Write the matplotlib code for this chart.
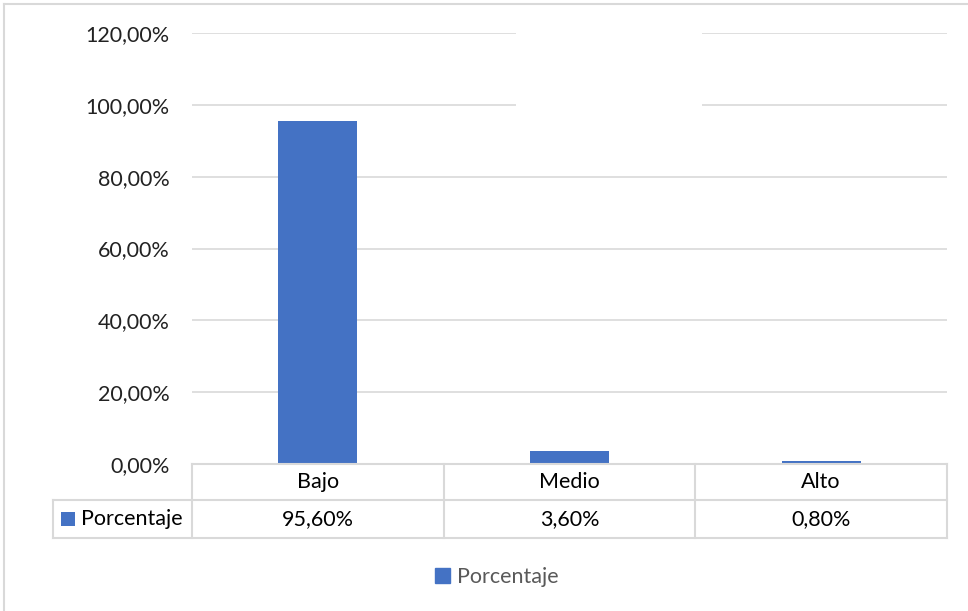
import matplotlib.pyplot as plt
from matplotlib.patches import Rectangle
from matplotlib.lines import Line2D
from matplotlib.transforms import blended_transform_factory

# data
categorias = ["Bajo", "Medio", "Alto"]
porcentaje = [95.60, 3.60, 0.80]
serie = "Porcentaje"
yticks = [0, 20, 40, 60, 80, 100, 120]

W, H = 968, 611
azul = "#4472C4"
gris = "#D9D9D9"
fs = 15.5

plt.rcParams['font.family'] = ['Lato', 'DejaVu Sans']

fig = plt.figure(figsize=(W / 100, H / 100), dpi=100)
ax = fig.add_axes([192 / W, (H - 464) / H, (947 - 192) / W, (464 - 33) / H])

x = list(range(len(categorias)))
ax.bar(x, porcentaje, width=0.314, color=azul, zorder=2)
ax.set_xlim(-0.5, len(categorias) - 0.5)
ax.set_ylim(0, 120)
ax.set_yticks(yticks)
ax.set_yticklabels([("%.2f%%" % v).replace(".", ",") for v in yticks],
                   fontsize=fs, color="#222222")
ax.set_xticks([])
ax.tick_params(axis="y", length=0, pad=16)
ax.grid(axis="y", color=gris, linewidth=1.2)
ax.set_axisbelow(True)
for s in ax.spines.values():
    s.set_visible(False)

# blank title box hiding the top gridlines
fig.patches.append(Rectangle((516 / W, (H - 140) / H), (702 - 516) / W, 120 / H,
                             transform=fig.transFigure, facecolor="white",
                             edgecolor="none", zorder=1))

# data table under the plot
tr = blended_transform_factory(ax.transData, ax.transAxes)
ah = 464 - 33
cw = (947 - 192) / 3
r1 = -36 / ah
r2 = -74 / ah
xl = (53 - 192) / cw - 0.5
xe = len(categorias) - 0.5
kw = dict(transform=tr, color=gris, linewidth=1.5, clip_on=False)
ax.add_line(Line2D([-0.5, xe], [0, 0], **kw))
ax.add_line(Line2D([xl, xe], [r1, r1], **kw))
ax.add_line(Line2D([xl, xe], [r2, r2], **kw))
ax.add_line(Line2D([xl, xl], [r1, r2], **kw))
for b in [i - 0.5 for i in range(len(categorias) + 1)]:
    ax.add_line(Line2D([b, b], [0, r2], **kw))
for i, c in enumerate(categorias):
    ax.text(i, r1 / 2, c, transform=tr, ha="center", va="center", fontsize=fs)
    ax.text(i, (r1 + r2) / 2, ("%.2f%%" % porcentaje[i]).replace(".", ","),
            transform=tr, ha="center", va="center", fontsize=fs)
ax.add_patch(Rectangle(((61 - 192) / cw - 0.5, (r1 + r2) / 2 - 7 / ah), 14 / cw, 14 / ah,
                       transform=tr, facecolor=azul, edgecolor="none", clip_on=False))
ax.text((81 - 192) / cw - 0.5, (r1 + r2) / 2, serie, transform=tr,
        ha="left", va="center", fontsize=fs)

# legend
fig.legend([Rectangle((0, 0), 1, 1, color=azul)], [serie], loc="center",
           bbox_to_anchor=(497 / W, (H - 577) / H), frameon=False, fontsize=fs,
           handlelength=0.7, handleheight=0.7, handletextpad=0.3, labelcolor="#595959")

# chart border
fig.lines.append(Line2D([4 / W, 4 / W], [0, (H - 4) / H], transform=fig.transFigure,
                        color=gris, linewidth=1.5))
fig.lines.append(Line2D([4 / W, 1], [(H - 4) / H, (H - 4) / H], transform=fig.transFigure,
                        color=gris, linewidth=1.5))

fig.savefig("out.png", dpi=100)
